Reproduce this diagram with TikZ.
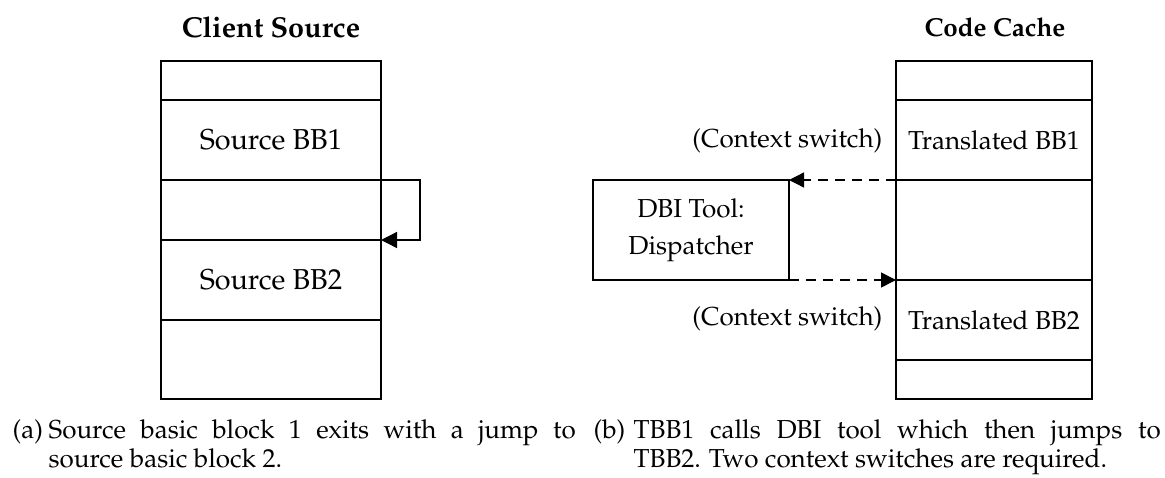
\documentclass[tikz,border=0pt]{standalone}
\usepackage[T1]{fontenc}
\usepackage{mathpazo}
\usetikzlibrary{arrows.meta}
\newcommand{\bodyfnt}{\fontsize{14.4}{18}\selectfont}
\newcommand{\rbodyfnt}{\fontsize{13}{18.3}\selectfont}
\newcommand{\capfnt}{\fontsize{13}{15}\selectfont}
\begin{document}
\begin{tikzpicture}[x=0.5pt,y=-0.5pt,line width=0.7pt,
  cellbox/.style={draw, inner sep=0pt, outer sep=0pt, anchor=north west, align=center},
  lcell/.style={cellbox, minimum width=110pt, font=\bodyfnt},
  rcell/.style={cellbox, minimum width=98pt, font=\rbodyfnt},
  lttl/.style={font=\bodyfnt\bfseries, inner sep=0pt},
  rttl/.style={font=\rbodyfnt\bfseries, inner sep=0pt},
  lbl/.style={font=\rbodyfnt, inner sep=0pt},
  captxt/.style={font=\capfnt, inner sep=0pt, anchor=base west},
  solidarrow/.style={-{Triangle[length=8pt,width=8pt]}},
  dasharrow/.style={-{Triangle[length=7.5pt,width=7.5pt]}, dash pattern=on 5pt off 3.5pt}]
\useasboundingbox (0,0) rectangle (1165,477);
% titles
\node[lttl] (t1) at (271,27) {Client Source};
\node[rttl] (t2) at (995,27) {Code Cache};
% left column
\node[lcell, minimum height=19.5pt] (l1) at (161,61) {};
\node[lcell, minimum height=40pt] (l2) at (161,100) {Source BB1};
\node[lcell, minimum height=30pt] (l3) at (161,180) {};
\node[lcell, minimum height=40pt] (l4) at (161,240) {Source BB2};
\node[lcell, minimum height=39.5pt] (l5) at (161,320) {};
\draw[solidarrow] (l3.north east) -- ++(39,0) |- (l4.north east);
% right column
\node[rcell, minimum height=19.5pt] (r1) at (896,61) {};
\node[rcell, minimum height=40pt] (r2) at (896,100) {Translated BB1};
\node[rcell, minimum height=50pt] (r3) at (896,180) {};
\node[rcell, minimum height=40pt] (r4) at (896,280) {Translated BB2};
\node[rcell, minimum height=19.5pt] (r5) at (896,360) {};
% dispatcher
\node[rcell, minimum height=50pt] (d) at (593,180) {DBI Tool:\\Dispatcher};
\draw[dasharrow] (r3.north west) -- (d.north east);
\draw[dasharrow] (d.south east) -- (r3.south west);
\node[lbl, anchor=east] (cs1) at (883,141) {(Context switch)};
\node[lbl, anchor=east] (cs2) at (883,319) {(Context switch)};
% captions
\node[captxt] (ca) at (12,438) {(a)};
\node[captxt] (ca1) at (48,438) {\makebox[263.5pt][s]{Source basic block 1 exits with a jump to}};
\node[captxt] (ca2) at (48,467) {source basic block 2.};
\node[captxt] (cb) at (593,438) {(b)};
\node[captxt] (cb1) at (633,438) {\makebox[263.5pt][s]{TBB1 calls DBI tool which then jumps to}};
\node[captxt] (cb2) at (633,467) {TBB2. Two context switches are required.};
\end{tikzpicture}
\end{document}
